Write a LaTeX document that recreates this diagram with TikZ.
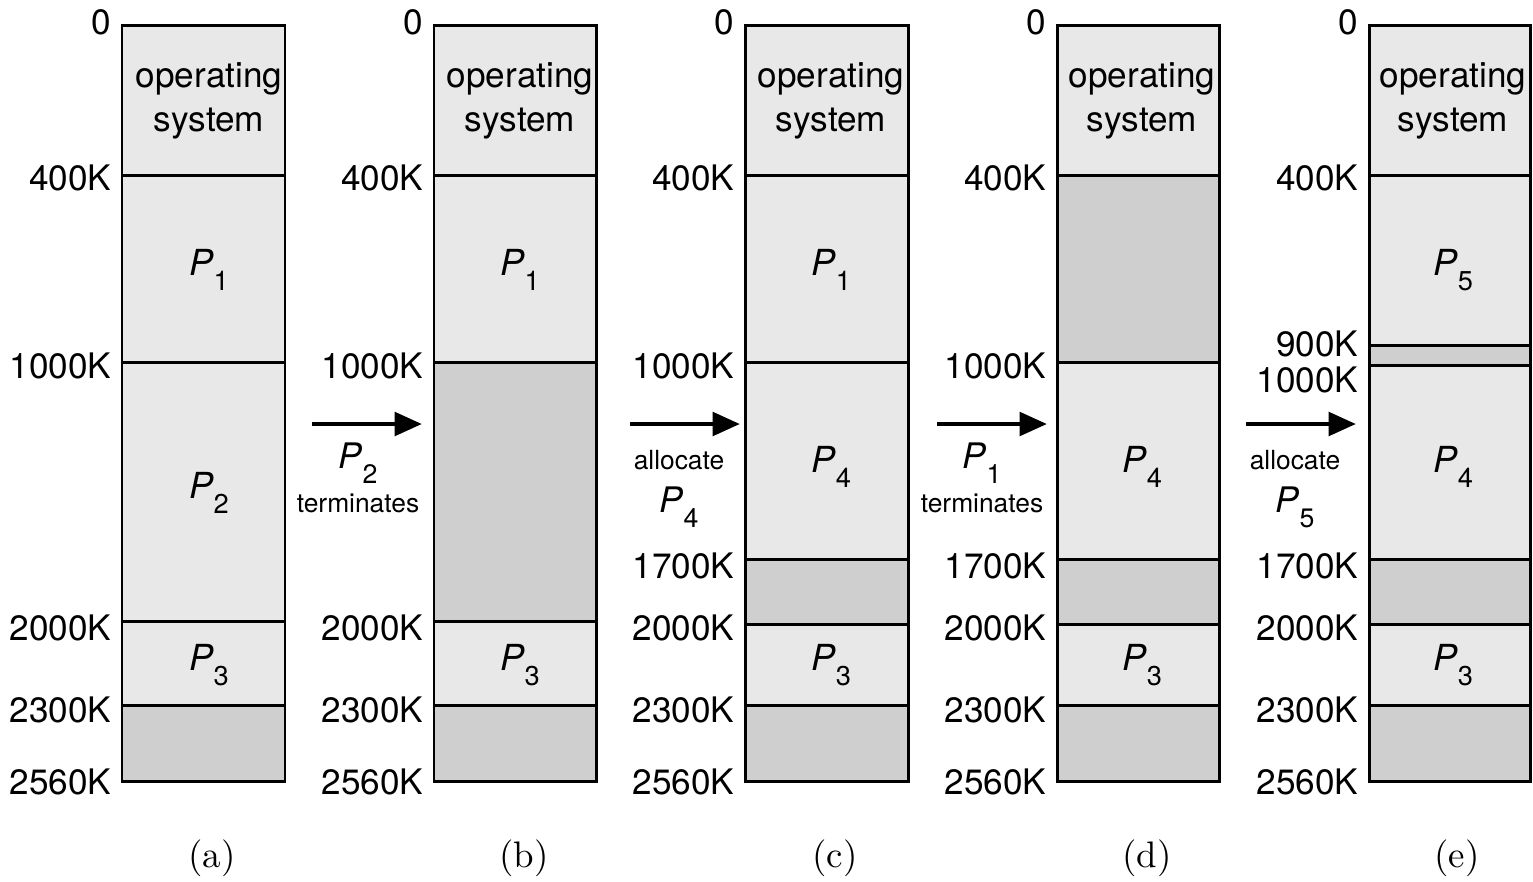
\documentclass[tikz,border=0pt]{standalone}
\usepackage{fontspec}
\setmainfont{Latin Modern Roman}
\setsansfont{TeX Gyre Heros}
\usetikzlibrary{arrows.meta, positioning}

\definecolor{usedgray}{HTML}{E8E8E8}
\definecolor{holegray}{HTML}{CFCFCF}

\newcommand{\proc}[1]{{\itshape P}\kern0.02em\raisebox{-0.42em}{\scalebox{0.76}{#1}}}

\begin{document}
\begin{tikzpicture}[x=0.01cm, y=-0.01cm]
    \tikzset{
        used/.style = {draw=black, fill=usedgray, line width=0.85pt},
        hole/.style = {draw=black, fill=holegray, line width=0.85pt},
        addr/.style = {anchor=east, inner sep=0pt, font=\sffamily\fontsize{10}{10}\selectfont},
        proc/.style = {inner sep=0pt, font=\sffamily\fontsize{10.2}{10}\selectfont},
        ostext/.style = {align=center, inner sep=0pt, font=\sffamily\fontsize{10}{12.4}\selectfont},
        step label/.style = {inner sep=0pt, font=\sffamily\fontsize{7.5}{7.5}\selectfont},
        step proc/.style = {inner sep=0pt, font=\sffamily\fontsize{10}{10}\selectfont},
        move/.style = {line width=1.4pt, -{Triangle[length=7.8pt, width=6.6pt]}},
        caption/.style = {inner sep=0pt, font=\rmfamily\fontsize{10.5}{10.5}\selectfont},
    }
    \useasboundingbox (0,0) rectangle (1533,881);

    % (a)
    \draw[used] (122,25) rectangle (285,175);
    \draw[used] (122,175) rectangle (285,362);
    \draw[used] (122,362) rectangle (285,621);
    \draw[used] (122,621) rectangle (285,705);
    \draw[hole] (122,705) rectangle (285,781);
    \node[ostext](osA) at (209,101) {operating\\system};
    \node[proc](pA1) at (209,270) {\proc{1}};
    \node[proc](pA2) at (209,493) {\proc{2}};
    \node[proc](pA3) at (209,665) {\proc{3}};
    \node[addr](a0) at (112,22) {0};
    \node[addr](a400) at (112,178) {400K};
    \node[addr](a1000) at (112,366) {1000K};
    \node[addr](a2000) at (112,628) {2000K};
    \node[addr](a2300) at (112,710) {2300K};
    \node[addr](a2560) at (112,782) {2560K};
    \node[caption](capA) at (212,858) {(a)};

    % (b)
    \draw[used] (434,25) rectangle (596,175);
    \draw[used] (434,175) rectangle (596,362);
    \draw[hole] (434,362) rectangle (596,621);
    \draw[used] (434,621) rectangle (596,705);
    \draw[hole] (434,705) rectangle (596,781);
    \node[ostext](osB) at (520,101) {operating\\system};
    \node[proc](pB1) at (520,270) {\proc{1}};
    \node[proc](pB3) at (520,665) {\proc{3}};
    \node[addr](b0) at (424,22) {0};
    \node[addr](b400) at (424,178) {400K};
    \node[addr](b1000) at (424,366) {1000K};
    \node[addr](b2000) at (424,628) {2000K};
    \node[addr](b2300) at (424,710) {2300K};
    \node[addr](b2560) at (424,782) {2560K};
    \node[caption](capB) at (524,858) {(b)};

    % (c)
    \draw[used] (745,25) rectangle (908,175);
    \draw[used] (745,175) rectangle (908,362);
    \draw[used] (745,362) rectangle (908,559);
    \draw[hole] (745,559) rectangle (908,624);
    \draw[used] (745,624) rectangle (908,705);
    \draw[hole] (745,705) rectangle (908,781);
    \node[ostext](osC) at (831,101) {operating\\system};
    \node[proc](pC1) at (831,270) {\proc{1}};
    \node[proc](pC4) at (831,467) {\proc{4}};
    \node[proc](pC3) at (831,665) {\proc{3}};
    \node[addr](c0) at (735,22) {0};
    \node[addr](c400) at (735,178) {400K};
    \node[addr](c1000) at (735,366) {1000K};
    \node[addr](c1700) at (735,566) {1700K};
    \node[addr](c2000) at (735,628) {2000K};
    \node[addr](c2300) at (735,710) {2300K};
    \node[addr](c2560) at (735,782) {2560K};
    \node[caption](capC) at (835,858) {(c)};

    % (d)
    \draw[used] (1057,25) rectangle (1219,175);
    \draw[hole] (1057,175) rectangle (1219,362);
    \draw[used] (1057,362) rectangle (1219,559);
    \draw[hole] (1057,559) rectangle (1219,624);
    \draw[used] (1057,624) rectangle (1219,705);
    \draw[hole] (1057,705) rectangle (1219,781);
    \node[ostext](osD) at (1142,101) {operating\\system};
    \node[proc](pD4) at (1142,467) {\proc{4}};
    \node[proc](pD3) at (1142,665) {\proc{3}};
    \node[addr](d0) at (1047,22) {0};
    \node[addr](d400) at (1047,178) {400K};
    \node[addr](d1000) at (1047,366) {1000K};
    \node[addr](d1700) at (1047,566) {1700K};
    \node[addr](d2000) at (1047,628) {2000K};
    \node[addr](d2300) at (1047,710) {2300K};
    \node[addr](d2560) at (1047,782) {2560K};
    \node[caption](capD) at (1147,858) {(d)};

    % (e)
    \draw[used] (1369,25) rectangle (1530,175);
    \draw[used] (1369,175) rectangle (1530,345);
    \draw[hole] (1369,345) rectangle (1530,365);
    \draw[used] (1369,365) rectangle (1530,559);
    \draw[hole] (1369,559) rectangle (1530,624);
    \draw[used] (1369,624) rectangle (1530,705);
    \draw[hole] (1369,705) rectangle (1530,781);
    \node[ostext](osE) at (1453,101) {operating\\system};
    \node[proc](pE5) at (1453,270) {\proc{5}};
    \node[proc](pE4) at (1453,467) {\proc{4}};
    \node[proc](pE3) at (1453,665) {\proc{3}};
    \node[addr](e0) at (1359,22) {0};
    \node[addr](e400) at (1359,178) {400K};
    \node[addr](e900) at (1359,344) {900K};
    \node[addr](e1000) at (1359,380) {1000K};
    \node[addr](e1700) at (1359,566) {1700K};
    \node[addr](e2000) at (1359,628) {2000K};
    \node[addr](e2300) at (1359,710) {2300K};
    \node[addr](e2560) at (1359,782) {2560K};
    \node[caption](capE) at (1457,858) {(e)};

    % steps between the snapshots
    \coordinate (ab1) at (312,424);  \coordinate (ab2) at (422,424);
    \coordinate (bc1) at (630,424);  \coordinate (bc2) at (740,424);
    \coordinate (cd1) at (937,424);  \coordinate (cd2) at (1047,424);
    \coordinate (de1) at (1246,424); \coordinate (de2) at (1356,424);
    \path[move] (ab1) edge (ab2) (bc1) edge (bc2) (cd1) edge (cd2) (de1) edge (de2);

    \node[step proc](sAB) at (358,463) {\proc{2}};
    \node[step label](tAB) at (358,503) {terminates};
    \node[step label](tBC) at (679,460) {allocate};
    \node[step proc](sBC) at (679,507) {\proc{4}};
    \node[step proc](sCD) at (982,463) {\proc{1}};
    \node[step label](tCD) at (982,503) {terminates};
    \node[step label](tDE) at (1295,460) {allocate};
    \node[step proc](sDE) at (1295,507) {\proc{5}};

\end{tikzpicture}
\end{document}
